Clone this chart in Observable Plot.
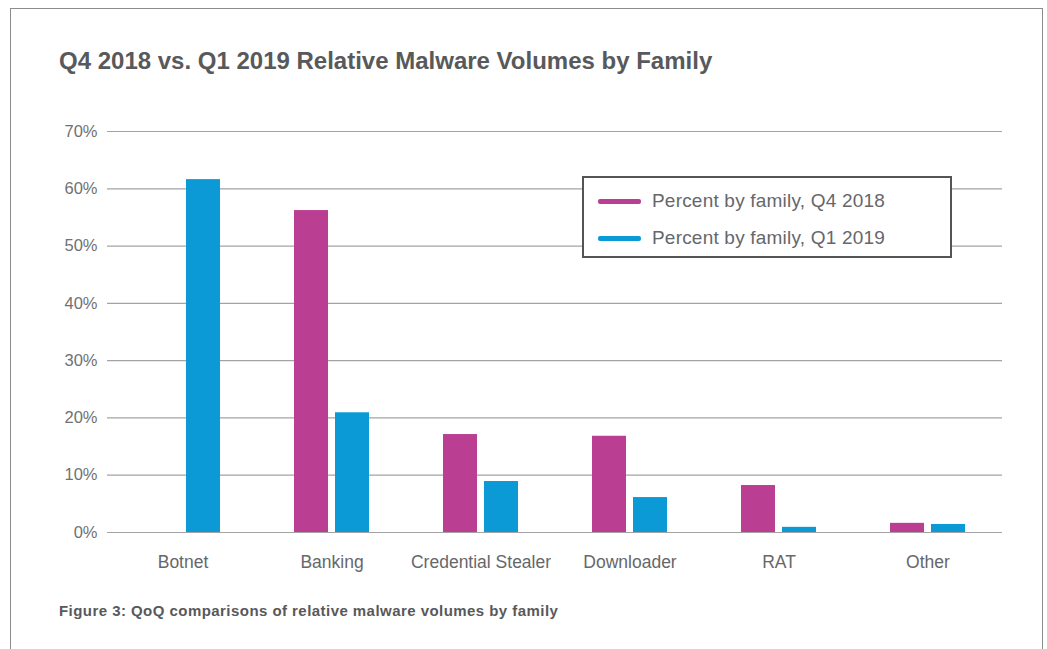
<!DOCTYPE html>
<html>
<head>
<meta charset="utf-8">
<script src="https://cdn.jsdelivr.net/npm/d3@7"></script>
<script src="https://cdn.jsdelivr.net/npm/@observablehq/plot@0.6"></script>
<style>
  html, body { margin: 0; padding: 0; background: #fff; }
  #wrap { position: relative; width: 1047px; height: 649px; overflow: hidden; font-family: "Liberation Sans", Arial, Helvetica, sans-serif; }
  #frame { position: absolute; left: 10px; top: 8px; width: 1033px; height: 720px; border: 1.5px solid #8c8c8c; box-sizing: border-box; }
  #title { position: absolute; left: 59px; top: 47px; margin: 0; font-size: 24px; line-height: 28px; font-weight: bold; color: #58595b; white-space: nowrap; }
  #chart { position: absolute; left: 0; top: 0; }
  #legend { position: absolute; left: 582px; top: 176px; width: 370px; height: 82px; border: 2px solid #555; box-sizing: border-box; background: #fff; }
  .item { position: absolute; left: 14px; height: 22px; font-size: 19px; letter-spacing: 0.2px; color: #66676a; white-space: nowrap; }
  .sw { position: absolute; left: 0; top: 9px; width: 43px; height: 4.5px; border-radius: 2px; }
  .item span.t { position: absolute; left: 54px; top: 0; line-height: 22px; }
  #caption { position: absolute; left: 59px; top: 602px; font-size: 15px; letter-spacing: 0.45px; line-height: 18px; font-weight: bold; color: #58595b; white-space: nowrap; }
</style>
</head>
<body>
<div id="wrap">
  <div id="frame"></div>
  <h1 id="title">Q4 2018 vs. Q1 2019 Relative Malware Volumes by Family</h1>
  <div id="chart"></div>
  <div id="legend"></div>
  <div id="caption">Figure 3: QoQ comparisons of relative malware volumes by family</div>
</div>
<script>
const categories = ["Botnet", "Banking", "Credential Stealer", "Downloader", "RAT", "Other"];
const seriesNames = ["Percent by family, Q4 2018", "Percent by family, Q1 2019"];
const q4_2018 = [0, 56.2, 17.1, 16.8, 8.2, 1.6];
const q1_2019 = [61.6, 20.9, 8.9, 6.1, 0.9, 1.4];
const yTicks = [0, 10, 20, 30, 40, 50, 60, 70];
const colors = ["#ba3f93", "#0c9ad6"];

const rowsQ4 = categories.map((c, i) => ({category: c, value: q4_2018[i]}));
const rowsQ1 = categories.map((c, i) => ({category: c, value: q1_2019[i]}));

const chart = Plot.plot({
  width: 1047,
  height: 590,
  marginLeft: 107,
  marginRight: 45,
  marginTop: 131,
  marginBottom: 58,
  style: {fontFamily: "'Liberation Sans', Arial, sans-serif", background: "transparent", color: "#666"},
  x: {domain: categories, paddingInner: 0.497, paddingOuter: 0.2485, label: null},
  y: {domain: [0, 70], label: null},
  marks: [
    Plot.ruleY(yTicks, {stroke: "#a3a3a3", strokeWidth: 1.2}),
    Plot.barY(rowsQ4, {x: "category", y: "value", fill: colors[0], insetRight: 41}),
    Plot.barY(rowsQ1, {x: "category", y: "value", fill: colors[1], insetLeft: 41}),
    Plot.axisY(yTicks, {tickSize: 0, tickPadding: 10, tickFormat: d => d + "%", fontSize: 16.5, fill: "#707173", label: null}),
    Plot.axisX({tickSize: 0, tickPadding: 23, fontSize: 17.5, fill: "#66676a", label: null})
  ]
});
document.getElementById("chart").appendChild(chart);

const legend = document.getElementById("legend");
seriesNames.forEach((name, i) => {
  const item = document.createElement("div");
  item.className = "item";
  item.style.top = (12 + i * 37) + "px";
  const sw = document.createElement("div");
  sw.className = "sw";
  sw.style.background = colors[i];
  const t = document.createElement("span");
  t.className = "t";
  t.textContent = name;
  item.appendChild(sw);
  item.appendChild(t);
  legend.appendChild(item);
});
</script>
</body>
</html>
